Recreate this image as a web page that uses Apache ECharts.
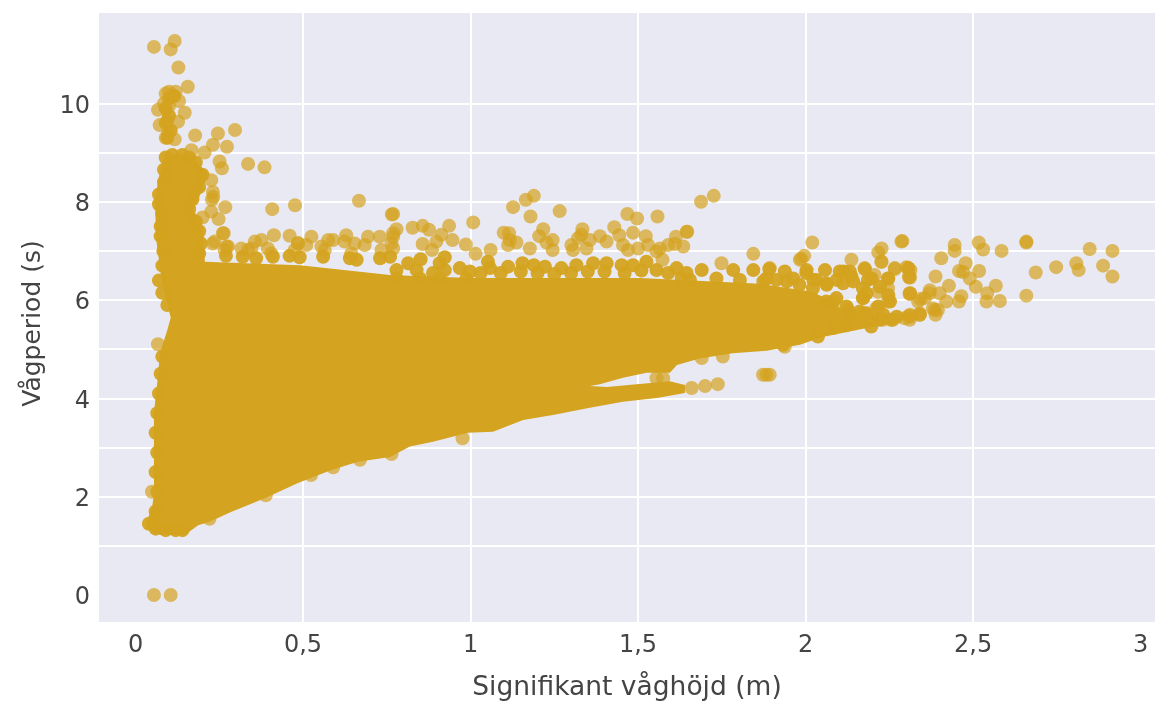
<!DOCTYPE html>
<html><head><meta charset="utf-8">
<style>html,body{margin:0;padding:0;background:#fff}#c{width:1155px;height:701px}</style>
<script src="https://cdn.jsdelivr.net/npm/echarts@6/dist/echarts.min.js"></script>
</head><body><div id="c"></div>
<script>
const xTickValues = [0, 0.5, 1, 1.5, 2, 2.5, 3];
const yGridValues = [0, 1, 2, 3, 4, 5, 6, 7, 8, 9, 10, 11];
const yLabelValues = [0, 2, 4, 6, 8, 10];
const xTitle = 'Signifikant våghöjd (m)';
const yTitle = 'Vågperiod (s)';

// Outline of the fully saturated mass of points [x, y]
const denseOutline = [
[.075,1.22],[.05,1.28],[.03,1.42],[.05,1.80],[.055,2.07],[.055,2.89],[.055,3.70],[.068,4.52],[.073,4.92],
[.095,5.39],[.105,5.64],[.085,6.21],[.075,6.55],[.062,7.22],[.058,8.04],[.07,8.51],[.085,8.9],
[.127,8.97],[.17,8.9],[.215,8.58],[.2,8.24],[.172,7.85],[.2,7.49],[.207,6.78],
[.491,6.71],[.759,6.51],[.998,6.45],[1.505,6.45],[1.863,6.33],[2.02,6.17],[2.08,5.97],[2.117,5.76],
[2.25,5.70],[2.28,5.64],[2.27,5.55],[2.183,5.43],[2.051,5.25],[1.983,5.09],[1.884,4.97],[1.783,4.92],[1.684,4.81],[1.616,4.68],[1.595,4.52],
[1.526,4.52],[1.455,4.42],[1.386,4.29],[1.356,4.25],[1.407,4.23],[1.496,4.29],[1.595,4.35],[1.64,4.27],[1.64,4.11],
[1.556,4.01],[1.455,3.93],[1.356,3.81],[1.246,3.66],[1.157,3.56],[1.067,3.32],[.992,3.30],[.888,3.12],[.819,3.02],[.76,2.81],
[.664,2.71],[.583,2.54],[.485,2.28],[.386,1.97],[.285,1.69],[.221,1.49],[.187,1.42],[.147,1.22]
];
// Heavily overplotted points that read as solid in the picture
const blockEdgePoints = [
[.09,8.9],[.085,8.65],[.085,8.4],[.07,8.15],[.07,7.95],[.08,7.75],[.075,7.5],[.075,7.3],[.083,7.0],[.08,6.7],[.07,6.4],[.08,6.15],[.095,5.9],
[.11,8.95],[.14,8.95],[.16,8.9],[.18,8.8],[.2,8.55],[.19,8.3],[.17,8.05],[.16,7.85],[.18,7.6],[.19,7.4],[.195,7.15],[.19,6.95],
[.06,1.7],[.065,2.1],[.06,2.5],[.065,2.9],[.06,3.3],[.065,3.7],[.07,4.1],[.075,4.5],[.08,4.85],
[.04,1.45],[.06,1.35],[.09,1.32],[.12,1.32],[.14,1.32],[.095,9.3],[.105,9.45],[.09,9.6],[.1,9.75],[.09,9.9],[.1,10.1],[.115,10.15],
[.27,6.9],[.32,6.88],[.36,6.85],[.41,6.88],[.46,6.9],[.49,6.87],[.56,6.88],[.64,6.85],[.66,6.82],[.73,6.85],[.76,6.88],
[.814,6.75],[.851,6.83],[.923,6.87],[.908,6.75],[.779,6.61],[.839,6.61],[.888,6.55],[.923,6.61],[.968,6.65],[.998,6.58],[1.052,6.78],[1.058,6.65],[1.112,6.68],[1.155,6.75],[1.189,6.71],[1.222,6.68],[1.271,6.65],[1.316,6.71],[1.366,6.75],[1.406,6.75],[1.451,6.71],[1.485,6.71],[1.525,6.78],[1.615,6.65],[1.555,6.61],[1.645,6.55],
[.779,6.44],[.849,6.44],[.908,6.44],[.988,6.44],[1.03,6.55],[1.09,6.55],[1.15,6.58],[1.2,6.55],[1.25,6.53],[1.3,6.55],[1.35,6.58],[1.4,6.58],[1.46,6.55],[1.51,6.6],[1.59,6.55],[1.63,6.45],
[1.69,6.61],[1.784,6.61],[1.844,6.61],[1.892,6.63],[1.938,6.58],[2.003,6.61],[2.058,6.61],[2.113,6.58],[2.177,6.63],
[1.655,6.41],[1.734,6.44],[1.804,6.41],[1.874,6.38],[1.944,6.38],[2.023,6.41],[2.093,6.41],[2.137,6.48],[2.197,6.44],[2.247,6.44],[2.222,6.27],[2.247,6.1],[2.182,6.14],[2.252,5.97],[2.122,5.87],[2.172,6.04],[2.217,5.87],[2.083,5.97],[2.063,6.31],
[2.272,5.66],[2.232,5.7],[2.182,5.73],[2.132,5.73],[2.127,5.8],[2.172,5.73],[2.221,5.6],[2.256,5.6],[2.196,5.46],[2.122,5.49],[2.082,5.43],[2.037,5.26],[1.933,5.09],
[1.883,6.44],[1.913,6.41],[1.963,6.44],[2.002,6.55],[2.032,6.41],[1.982,6.31],[2.102,6.58],[2.132,6.58],[2.186,6.41],[2.142,6.38],[2.112,6.34],[2.062,6.34],[2.022,6.24],[2.171,6.04],[2.171,6.24],[2.162,5.77],[2.092,6.04],[2.062,5.97]
];
const zeroPoints = [[.055,0],[.105,0]];
const spikePoints = [
[.055,11.15],[.117,11.27],[.105,11.1],[.128,10.73],[.156,10.34],[.1,10.24],[.12,10.24],[.11,10.15],[.09,10.2],[.13,10.05],[.085,10.0],[.1,9.95],
[.067,9.87],[.147,9.81],[.127,9.63],[.072,9.56],[.095,9.65],[.097,9.4],[.117,9.27],[.09,9.3],[.178,9.35],[.246,9.39],[.297,9.46],[.231,9.16],[.273,9.12],
[.206,9.0],[.167,9.05],[.251,8.82],[.258,8.68],[.336,8.77],[.385,8.7],[.231,8.2],[.232,8.1],[.226,8.44],[.268,7.89],[.408,7.85],[.476,7.93],[.667,8.02],[.765,7.74],
[.228,8.04],[.226,7.8],[.248,7.65],[.2,7.68],[.263,7.36],[.272,7.09]
];
const ridgeLeftPoints = [
[.413,7.32],[.46,7.31],[.376,7.22],[.356,7.19],[.525,7.29],[.485,7.15],[.51,7.12],[.555,7.09],[.59,7.22],[.629,7.32],[.624,7.19],[.654,7.15],[.694,7.29],[.729,7.29],[.769,7.36],[.684,7.12],
[.261,7.36],[.236,7.19],[.276,7.09],[.316,7.05],[.346,7.05],[.395,7.05],[.231,7.15],[.266,7.02],[.336,7.02],[.405,6.95],[.475,7.02],[.565,7.02],[.644,6.95],[.734,7.02],[.764,7.16],[.485,7.16],[.575,7.22]
];
const ridgeMidPoints = [
[.769,7.75],[.827,7.47],[.857,7.51],[.876,7.43],[.779,7.44],[.769,7.29],[.769,7.05],[.936,7.51],[.913,7.33],[.898,7.19],[.946,7.22],[.857,7.14],[.885,7.02],[.986,7.13],[1.008,7.58],[1.015,6.94],[1.06,7.02],
[1.127,7.89],[1.165,8.04],[1.189,8.12],[1.179,7.70],[1.266,7.81],[1.099,7.37],[1.115,7.36],[1.117,7.22],[1.137,7.17],[1.112,7.12],[1.177,7.05],[1.217,7.44],[1.205,7.3],[1.245,7.22],[1.227,7.17],[1.245,7.02],
[1.334,7.44],[1.331,7.33],[1.356,7.22],[1.301,7.12],[1.346,7.05],[1.306,7.02],[1.321,7.26],[1.386,7.3],[1.468,7.75],[1.497,7.66],[1.558,7.70],[1.429,7.48],[1.444,7.32],[1.485,7.37],[1.406,7.19],[1.455,7.12],[1.470,7.02],[1.5,7.05],
[1.523,7.3],[1.53,7.12],[1.555,6.99],[1.573,6.82],[1.59,7.12],[1.613,7.29],[1.61,7.14],[1.635,7.09],[1.645,7.39],[1.565,7.05],[1.688,8.0],[1.726,8.12],[1.647,7.39]
];
const ridgeRightPoints = [
[1.844,6.94],[1.749,6.75],[2.02,7.17],[1.996,6.9],[1.983,6.82],[2.137,6.82],[2.227,7.05],[2.217,6.97],[2.227,6.78],[2.289,7.2],[2.267,6.63],[2.307,6.65],[2.312,6.46],[2.312,6.14],[2.336,5.97],
[2.312,5.7],[2.311,5.66],[2.341,5.7],[2.385,5.8],[1.893,6.65],[1.987,6.84],[2.176,6.65],[2.226,6.78],[2.266,6.65],[2.306,6.65],[2.309,6.48],
[2.206,6.51],[2.246,6.44],[2.216,6.17],[2.246,6.24],[2.246,5.97],[2.311,6.14],[2.211,5.83],[2.196,5.66],[2.231,5.6],[2.261,5.6],[2.341,5.73],[2.356,6.04],[2.37,6.14]
];
const tipPoints = [
[2.286,7.19],[2.445,7.12],[2.445,7.0],[2.517,7.17],[2.53,7.03],[2.585,7.0],[2.659,7.19],[2.659,7.17],[2.848,7.04],[2.916,7.0],[2.405,6.85],[2.301,6.67],[2.313,6.61],[2.309,6.46],[2.478,6.75],[2.458,6.59],[2.47,6.57],[2.518,6.59],
[2.687,6.56],[2.748,6.67],[2.808,6.75],[2.815,6.61],[2.888,6.7],[2.916,6.48],[2.388,6.48],[2.49,6.44],[2.508,6.27],[2.568,6.29],[2.428,6.29],[2.371,6.2],[2.311,6.12],[2.343,6.02],[2.40,6.14],[2.42,5.97],[2.458,5.97],[2.465,6.08],
[2.542,6.14],[2.54,5.97],[2.58,5.98],[2.659,6.09],[2.38,5.83],[2.395,5.8],[2.388,5.7],[2.341,5.7],[2.309,5.68],[2.296,5.63],[2.311,5.6]
];
const lowerEdgePoints = [
[1.873,4.48],[1.883,4.48],[1.893,4.48],[1.66,4.21],[1.70,4.25],[1.738,4.29],[1.555,4.41],[1.575,4.41],[1.69,4.82],[1.753,4.85],[1.938,5.05],[.976,3.19],[.764,2.87],[.221,1.55],[.389,2.03],[.524,2.44],[.59,2.6],[.67,2.75],[.049,2.1],[.067,5.1]
];
const singlePoints = [].concat(zeroPoints, spikePoints, ridgeLeftPoints, ridgeMidPoints, ridgeRightPoints, tipPoints, lowerEdgePoints);

const gold = '#d4a31f';
const tickFont = {fontFamily:'DejaVu Sans', fontSize:24, color:'#444'};
const chart = echarts.init(document.getElementById('c'), null, {renderer:'canvas'});
chart.setOption({
  animation:false,
  backgroundColor:'#fff',
  grid:{left:99, top:13, width:1056, height:609, backgroundColor:'#e9e9f3', show:true, borderWidth:0, outerBoundsMode:'none', containLabel:false},
  xAxis:{
    type:'value', min:-0.109, max:3.043,
    name:xTitle, nameLocation:'middle', nameGap:53,
    nameTextStyle:{fontFamily:'DejaVu Sans', fontSize:26.5, color:'#444'},
    axisLine:{show:false},
    axisTick:{show:false, customValues:xTickValues},
    splitLine:{show:true, showMinLine:false, showMaxLine:false, lineStyle:{color:'#fff', width:2}},
    axisLabel:Object.assign({}, tickFont, {margin:12, customValues:xTickValues,
      formatter:v=>String(v).replace('.',',')})
  },
  yAxis:{
    type:'value', min:-0.549, max:11.84,
    name:yTitle, nameLocation:'middle', nameGap:53,
    nameTextStyle:{fontFamily:'DejaVu Sans', fontSize:25, color:'#444', padding:[0,12,0,0]},
    axisLine:{show:false},
    axisTick:{show:false, customValues:yGridValues},
    splitLine:{show:true, showMinLine:false, showMaxLine:false, lineStyle:{color:'#fff', width:2}},
    axisLabel:{margin:9, customValues:yLabelValues,
      formatter:v=>'{a|'+v+'}',
      rich:{a:Object.assign({}, tickFont, {padding:[6,0,0,0]})}}
  },
  series:[
    {type:'custom', silent:true, z:2, clip:true, data:[denseOutline[0]],
     renderItem:(params, api)=>({
       type:'polygon',
       shape:{points:denseOutline.map(p=>api.coord(p))},
       style:{fill:gold}
     })},
    {type:'scatter', z:3, data:blockEdgePoints, symbol:'circle', symbolSize:14, silent:true,
     itemStyle:{color:gold, opacity:0.95}},
    {type:'scatter', z:4, data:singlePoints, symbol:'circle', symbolSize:14, silent:true,
     itemStyle:{color:gold, opacity:0.7}}
  ]
});
</script></body></html>
